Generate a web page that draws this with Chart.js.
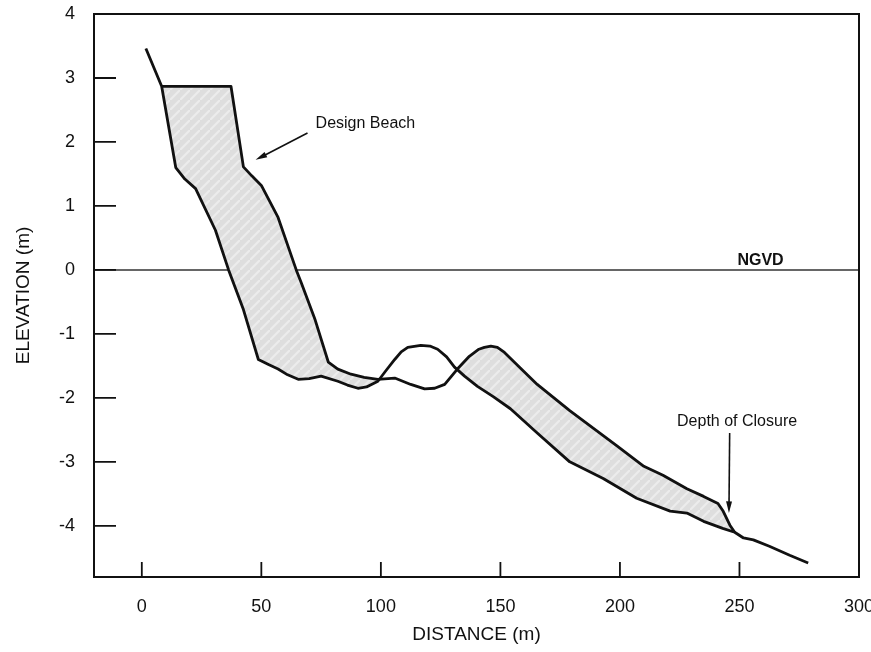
<!DOCTYPE html>
<html>
<head>
<meta charset="utf-8">
<script src="https://cdn.jsdelivr.net/npm/chart.js@4.4.1/dist/chart.umd.min.js"></script>
<style>
  body { margin: 0; background: #fff; }
  #wrap { width: 871px; height: 652px; }
</style>
</head>
<body>
<div id="wrap"><canvas id="profileChart"></canvas></div>
<script>
// existing (pre-fill) profile
const distExisting = [1.7, 8.3, 14.2, 18, 22.5, 30.8, 36.3, 42.5, 48.75, 53, 57, 61, 65.4, 70, 75, 82, 86, 90.4, 94, 98.75, 102, 105.8, 108.5, 111.25, 116.7, 120.5, 123.75, 127.5, 130.8, 135, 140.4, 147, 154.2, 165.4, 179, 193, 207, 221, 228, 235, 243, 248, 251.7, 255.8, 262.5, 271, 278.75];
const elevExisting = [3.46, 2.87, 1.60, 1.42, 1.27, 0.62, 0, -0.62, -1.40, -1.48, -1.55, -1.64, -1.71, -1.70, -1.66, -1.74, -1.80, -1.85, -1.83, -1.74, -1.58, -1.40, -1.28, -1.21, -1.18, -1.19, -1.24, -1.36, -1.52, -1.66, -1.82, -1.98, -2.17, -2.55, -3.0, -3.26, -3.57, -3.77, -3.80, -3.93, -4.04, -4.10, -4.19, -4.22, -4.32, -4.46, -4.58];

// design beach profile
const distDesign = [8.3, 37.3, 42.5, 46, 50, 57, 64.6, 66.7, 72.5, 78, 82, 87.5, 93, 98.75, 105.8, 112.5, 118.3, 122.5, 126.7, 132, 137, 141, 143.3, 146, 148.75, 151.7, 158, 165.4, 179, 193, 198.75, 210, 218, 228, 235, 241, 243, 246, 248];
const elevDesign = [2.87, 2.87, 1.61, 1.47, 1.32, 0.82, 0, -0.2, -0.78, -1.44, -1.55, -1.63, -1.68, -1.71, -1.69, -1.79, -1.86, -1.85, -1.79, -1.55, -1.35, -1.24, -1.21, -1.19, -1.21, -1.29, -1.52, -1.79, -2.2, -2.59, -2.75, -3.07, -3.21, -3.42, -3.54, -3.65, -3.76, -3.99, -4.10];

const ngvdDist = [-20, 300];
const ngvdElev = [0, 0];

const xTicks = [0, 50, 100, 150, 200, 250, 300];
const yTicks = [-4, -3, -2, -1, 0, 1, 2, 3, 4];

const FONT = "'Liberation Sans', Arial, Helvetica, sans-serif";
const INK = '#111';

// text labels and arrows, anchored in data units
const notes = [
  { text: 'Design Beach', x: 72.7, y: 2.29, align: 'left' },
  { text: 'Depth of Closure', x: 249, y: -2.37, align: 'center' },
  { text: 'NGVD', x: 258.8, y: 0.14, align: 'center', bold: true }
];
const arrows = [
  { from: [69.3, 2.14], to: [47.6, 1.72] },
  { from: [245.9, -2.55], to: [245.6, -3.80] }
];

function toPoints(xs, ys) {
  return xs.map((x, i) => ({ x: x, y: ys[i] }));
}

function shading() {
  const c = document.createElement('canvas');
  c.width = 10; c.height = 10;
  const g = c.getContext('2d');
  g.fillStyle = '#dedede';
  g.fillRect(0, 0, 10, 10);
  g.strokeStyle = '#ececec';
  g.lineWidth = 2;
  g.beginPath(); g.moveTo(0, 10); g.lineTo(10, 0); g.stroke();
  return g.createPattern(c, 'repeat');
}

const decor = {
  id: 'decor',
  afterDatasetsDraw(chart) {
    const { ctx, chartArea: a, scales: { x, y } } = chart;
    ctx.save();
    ctx.strokeStyle = INK;
    ctx.lineWidth = 2;
    ctx.strokeRect(a.left, a.top, a.right - a.left, a.bottom - a.top);

    // tick marks point inward
    ctx.lineWidth = 1.8;
    ctx.beginPath();
    xTicks.forEach(v => {
      const px = x.getPixelForValue(v);
      ctx.moveTo(px, a.bottom); ctx.lineTo(px, a.bottom - 15);
    });
    yTicks.forEach(v => {
      const py = y.getPixelForValue(v);
      ctx.moveTo(a.left, py); ctx.lineTo(a.left + 22, py);
    });
    ctx.stroke();

    // arrows
    ctx.fillStyle = INK;
    ctx.lineWidth = 1.6;
    arrows.forEach(ar => {
      const x0 = x.getPixelForValue(ar.from[0]), y0 = y.getPixelForValue(ar.from[1]);
      const x1 = x.getPixelForValue(ar.to[0]), y1 = y.getPixelForValue(ar.to[1]);
      const ang = Math.atan2(y1 - y0, x1 - x0);
      ctx.beginPath(); ctx.moveTo(x0, y0); ctx.lineTo(x1 - 8 * Math.cos(ang), y1 - 8 * Math.sin(ang)); ctx.stroke();
      ctx.beginPath();
      ctx.moveTo(x1, y1);
      ctx.lineTo(x1 - 12 * Math.cos(ang - 0.25), y1 - 12 * Math.sin(ang - 0.25));
      ctx.lineTo(x1 - 12 * Math.cos(ang + 0.25), y1 - 12 * Math.sin(ang + 0.25));
      ctx.closePath(); ctx.fill();
    });

    // notes
    ctx.textBaseline = 'middle';
    notes.forEach(n => {
      ctx.font = (n.bold ? 'bold ' : '') + '16px ' + FONT;
      ctx.textAlign = n.align;
      ctx.fillText(n.text, x.getPixelForValue(n.x), y.getPixelForValue(n.y));
    });
    ctx.restore();
  }
};

const data = {
  datasets: [
    {
      label: 'Existing',
      data: toPoints(distExisting, elevExisting),
      borderColor: INK,
      borderWidth: 2.8,
      borderJoinStyle: 'round',
      pointRadius: 0,
      tension: 0,
      fill: false
    },
    {
      label: 'Design Beach',
      data: toPoints(distDesign, elevDesign),
      borderColor: INK,
      borderWidth: 2.8,
      borderJoinStyle: 'round',
      pointRadius: 0,
      tension: 0,
      fill: { target: 0, above: shading(), below: 'rgba(0,0,0,0)' }
    },
    {
      label: 'NGVD',
      data: toPoints(ngvdDist, ngvdElev),
      borderColor: '#333',
      borderWidth: 1.5,
      pointRadius: 0,
      fill: false
    }
  ]
};

const config = {
  type: 'line',
  data: data,
  options: {
    responsive: true,
    maintainAspectRatio: false,
    animation: false,
    layout: { padding: { top: 14, right: 12, left: 0, bottom: 0 } },
    plugins: { legend: { display: false }, tooltip: { enabled: false } },
    scales: {
      x: {
        type: 'linear',
        min: -20,
        max: 300,
        afterBuildTicks: s => { s.ticks = xTicks.map(v => ({ value: v })); },
        afterFit: s => { s.height = 75; s.paddingLeft = 0; s.paddingRight = 0; },
        grid: { display: false },
        border: { display: false },
        ticks: { color: INK, font: { family: FONT, size: 18 }, padding: 11, maxRotation: 0, autoSkip: false },
        title: { display: true, text: 'DISTANCE (m)', color: INK, font: { family: FONT, size: 19 }, padding: { top: 0, bottom: 6 } }
      },
      y: {
        min: -4.8,
        max: 4,
        afterBuildTicks: s => { s.ticks = yTicks.map(v => ({ value: v })); },
        afterFit: s => { s.width = 94; s.paddingTop = 0; s.paddingBottom = 0; },
        grid: { display: false },
        border: { display: false },
        ticks: { color: INK, font: { family: FONT, size: 18 }, padding: 11 },
        title: { display: true, text: 'ELEVATION (m)', color: INK, font: { family: FONT, size: 19 }, padding: { top: 12, bottom: 0 } }
      }
    }
  },
  plugins: [decor]
};

new Chart(document.getElementById('profileChart').getContext('2d'), config);
</script>
</body>
</html>
